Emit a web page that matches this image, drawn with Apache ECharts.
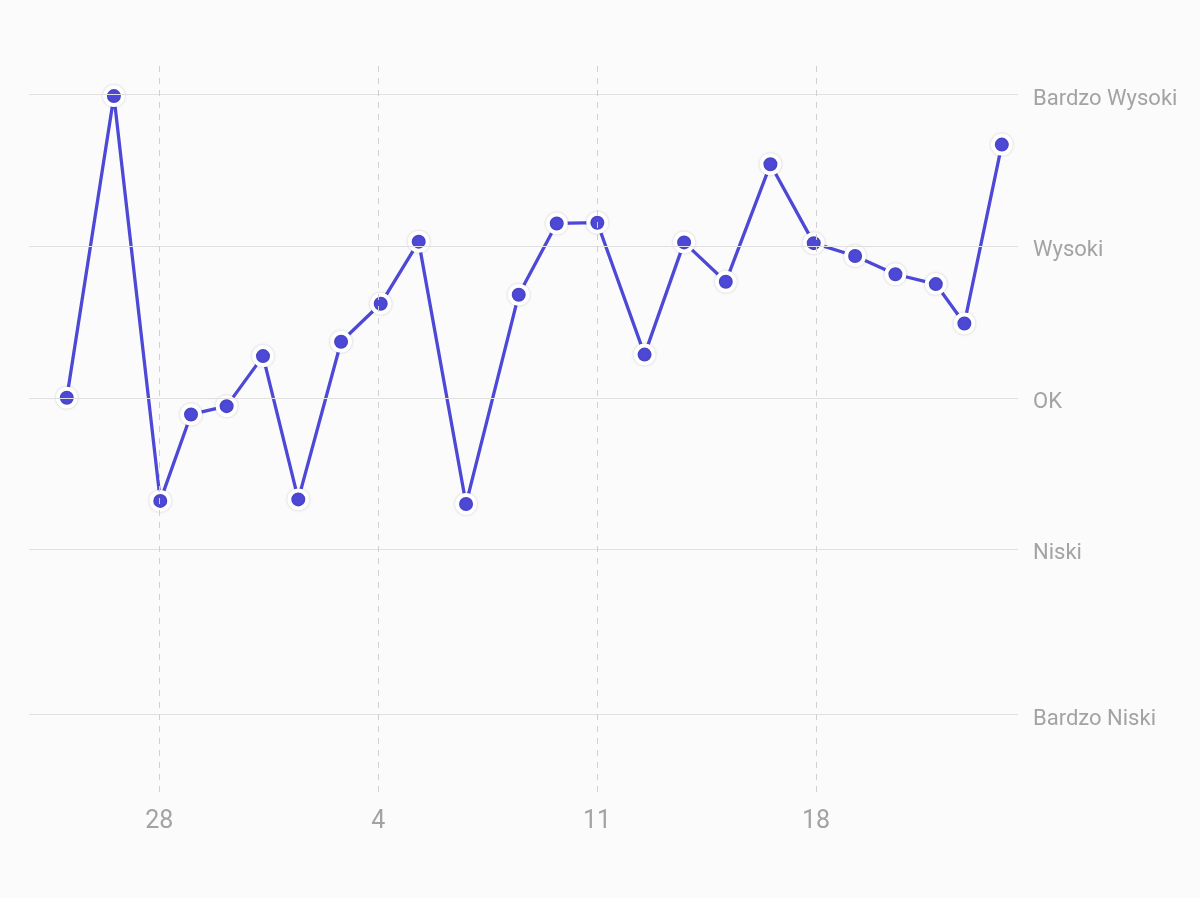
<!DOCTYPE html>
<html>
<head>
<meta charset="utf-8">
<script src="https://cdn.jsdelivr.net/npm/echarts@6/dist/echarts.min.js"></script>
<style>
  html, body { margin: 0; padding: 0; background: #fbfbfb; }
  #main { width: 1200px; height: 898px; }
</style>
</head>
<body>
<div id="main"></div>
<script>
// measurement times and levels (0 = OK, 1 = Wysoki, 2 = Bardzo Wysoki ...)
var times = [
  '2024-01-25 01:00', '2024-01-26 13:10', '2024-01-28 00:45', '2024-01-29 00:20',
  '2024-01-30 03:40', '2024-01-31 07:35', '2024-02-01 10:40', '2024-02-02 19:30',
  '2024-02-04 01:55', '2024-02-05 07:05', '2024-02-06 19:25', '2024-02-08 11:50',
  '2024-02-09 17:00', '2024-02-11 00:10', '2024-02-12 12:25', '2024-02-13 18:45',
  '2024-02-15 02:45', '2024-02-16 13:00', '2024-02-17 22:15', '2024-02-19 06:00',
  '2024-02-20 12:55', '2024-02-21 19:55', '2024-02-22 17:50', '2024-02-23 22:35'
]
var levels = [
  0, 1.99, -0.68, -0.11, -0.055, 0.275, -0.67, 0.37,
  0.62, 1.03, -0.70, 0.68, 1.15, 1.155, 0.285, 1.025,
  0.765, 1.54, 1.02, 0.935, 0.815, 0.75, 0.49, 1.67
]

// y axis labels
var levelNames = ['Bardzo Wysoki', 'Wysoki', 'OK', 'Niski', 'Bardzo Niski']
var levelValues = [2, 1, 0, -1, -2.09]

// x axis labels (weekly)
var weekTicks = ['2024-01-28 00:00', '2024-02-04 00:00', '2024-02-11 00:00', '2024-02-18 00:00']

function toTime (s) {
  return new Date(s.replace(' ', 'T') + ':00').getTime()
}

var chart = echarts.init(document.getElementById('main'))

var seriesData = []
for (var i = 0; i < times.length; i++) {
  seriesData.push([toTime(times[i]), levels[i]])
}
var weekValues = weekTicks.map(toTime)

var gridLines = []
for (var j = 0; j < levelValues.length; j++) {
  gridLines.push({ yAxis: levelValues[j] })
}
for (var k = 0; k < weekValues.length; k++) {
  gridLines.push({
    xAxis: weekValues[k],
    lineStyle: { color: '#d0d0d0', type: [6, 6], width: 1 }
  })
}

var option = {
  backgroundColor: '#fbfbfb',
  textStyle: { fontFamily: 'Roboto' },
  grid: { left: 29, right: 182, top: 60, bottom: 106 },
  xAxis: {
    type: 'value',
    min: toTime('2024-01-23 20:00'),
    max: toTime('2024-02-24 11:00'),
    axisLine: { show: false },
    axisTick: { show: false },
    splitLine: { show: false },
    axisLabel: {
      customValues: weekValues,
      formatter: function (v) { return String(new Date(v).getDate()) },
      color: '#a3a3a3',
      fontSize: 25,
      margin: 17
    }
  },
  yAxis: {
    type: 'value',
    position: 'right',
    min: -2.6,
    max: 2.228,
    axisLine: { show: false },
    axisTick: { show: false },
    splitLine: { show: false },
    axisLabel: {
      customValues: levelValues,
      formatter: function (v) {
        var best = 0
        for (var n = 1; n < levelValues.length; n++) {
          if (Math.abs(levelValues[n] - v) < Math.abs(levelValues[best] - v)) best = n
        }
        return '{t|' + levelNames[best] + '}'
      },
      rich: {
        t: { color: '#a3a3a3', fontSize: 22, fontFamily: 'Roboto', padding: [9, 0, 0, 0] }
      },
      color: '#a3a3a3',
      fontSize: 22,
      margin: 15
    }
  },
  series: [
    {
      // only carries the grid lines, drawn under the data line
      type: 'line',
      data: [],
      z: 1,
      silent: true,
      markLine: {
        silent: true,
        symbol: ['none', 'none'],
        animation: false,
        label: { show: false },
        lineStyle: { color: '#e0e0e0', type: 'solid', width: 1 },
        data: gridLines
      }
    },
    {
      type: 'line',
      z: 3,
      data: seriesData,
      symbol: 'circle',
      symbolSize: 18,
      showAllSymbol: true,
      lineStyle: { color: '#4d49d6', width: 3.3 },
      itemStyle: {
        color: '#4d49d6',
        borderColor: '#ffffff',
        borderWidth: 4,
        shadowBlur: 3,
        shadowColor: 'rgba(0, 0, 0, 0.18)'
      },
      animation: false
    }
  ]
}

chart.setOption(option)
</script>
</body>
</html>
